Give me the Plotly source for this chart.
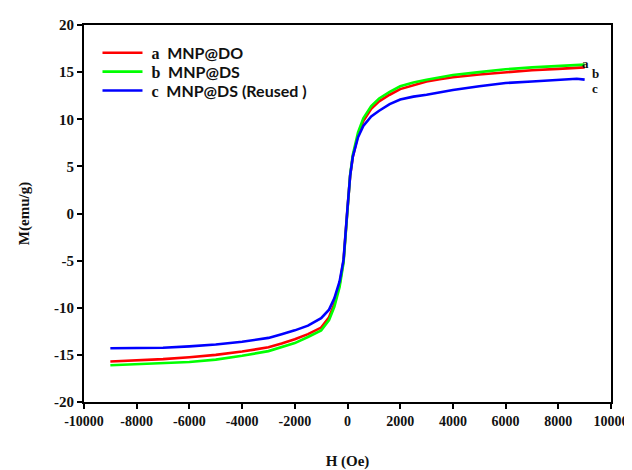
import plotly.graph_objects as go

# Upper/lower branch readings (H in Oe, M in emu/g)
h_a = [-9000, -8000, -7000, -6000, -5000, -4000, -3000, -2500, -2000, -1500, -1000, -700, -500, -300, -150, 0,
       100, 200, 400, 600, 900, 1200, 1600, 2000, 2500, 3000, 3500, 4000, 5000, 6000, 7000, 8000, 9000]
m_a = [-15.7, -15.6, -15.45, -15.25, -15.0, -14.65, -14.2, -13.8, -13.35, -12.8, -12.1, -11.0, -9.6, -7.5, -5.0, 0.5,
       4.0, 6.0, 8.3, 9.8, 11.1, 11.9, 12.6, 13.2, 13.6, 14.0, 14.25, 14.45, 14.75, 15.0, 15.2, 15.35, 15.5]

h_b = [-9000, -8000, -7000, -6000, -5000, -4000, -3000, -2500, -2000, -1500, -1000, -700, -500, -300, -150, 0,
       100, 200, 400, 600, 900, 1200, 1600, 2000, 2500, 3000, 3500, 4000, 5000, 6000, 7000, 8000, 9000]
m_b = [-16.1, -16.0, -15.9, -15.75, -15.5, -15.1, -14.6, -14.2, -13.75, -13.1, -12.4, -11.3, -9.9, -7.8, -5.2, 0.4,
       4.1, 6.2, 8.6, 10.1, 11.4, 12.2, 12.9, 13.5, 13.9, 14.2, 14.45, 14.7, 15.0, 15.3, 15.5, 15.65, 15.8]

h_c = [-9000, -8000, -7000, -6000, -5000, -4000, -3000, -2500, -2000, -1500, -1000, -700, -500, -300, -150, 0,
       100, 200, 400, 600, 900, 1200, 1600, 2000, 2500, 3000, 3500, 4000, 5000, 6000, 7000, 8000, 8700, 9000]
m_c = [-14.3, -14.3, -14.25, -14.1, -13.9, -13.6, -13.2, -12.8, -12.4, -11.9, -11.1, -10.2, -9.0, -7.2, -4.9, 0.6,
       4.0, 6.0, 8.1, 9.3, 10.3, 10.9, 11.6, 12.1, 12.4, 12.6, 12.85, 13.1, 13.5, 13.85, 14.0, 14.15, 14.3, 14.2]

series_names = ["a", "b", "c"]
series_labels = ["MNP@DO", "MNP@DS", "MNP@DS (Reused )"]
series_colors = ["#FF0000", "#00FF00", "#0000FF"]

x_ticks = list(range(-10000, 10001, 2000))
y_ticks = list(range(-20, 21, 5))

serif = "Liberation Serif"
sans = "Lato"

legend_ids = ["legend", "legend2", "legend3"]
legend_y = [0.926, 0.876, 0.826]

fig = go.Figure()
for h, m, n, lab, col, lid in zip([h_a, h_b, h_c], [m_a, m_b, m_c], series_names, series_labels,
                                  series_colors, legend_ids):
    fig.add_trace(go.Scatter(
        x=h, y=m, mode="lines",
        line=dict(color=col, width=2.6),
        name=f"&nbsp;<span style='font-family:{serif}'>{n}</span>&nbsp; {lab}",
        legend=lid,
    ))

# end labels a, b, c
end_pos = [(9050, 15.9), (9400, 14.9), (9400, 13.3)]
for n, (x, y) in zip(series_names, end_pos):
    fig.add_annotation(x=x, y=y, text=f"<b>{n}</b>", showarrow=False,
                       font=dict(family=serif, size=13, color="#111"), xanchor="center", yanchor="middle")

axis_common = dict(showgrid=False, zeroline=False, showline=True, linecolor="#000", linewidth=2,
                   mirror=True, ticks="outside", ticklen=5, tickwidth=1.5, tickcolor="#000",
                   automargin=False)

fig.update_xaxes(range=[-10000, 10000], tickvals=x_ticks, ticktext=[str(v) for v in x_ticks],
                 tickfont=dict(family=serif, size=14, color="#111", weight="bold"),
                 title=dict(text="<b>H (Oe)</b>", font=dict(family=serif, size=15, color="#111"), standoff=30),
                 **axis_common)
fig.update_yaxes(range=[-20, 20], tickvals=y_ticks, ticktext=[str(v) for v in y_ticks],
                 tickfont=dict(family=serif, size=15, color="#111", weight="bold"),
                 title=dict(text="<b>M(emu/g)</b>", font=dict(family=serif, size=15, color="#111"), standoff=21),
                 **axis_common)

leg_common = dict(x=0.0256, xanchor="left", yanchor="middle", bgcolor="rgba(0,0,0,0)",
                  font=dict(family=sans, size=16, color="#111", weight="bold"), itemwidth=40)

fig.update_layout(
    width=624, height=462,
    margin=dict(l=76, r=21, t=17, b=68),
    plot_bgcolor="white", paper_bgcolor="white",
    showlegend=True,
    legend=dict(y=legend_y[0], **leg_common),
    legend2=dict(y=legend_y[1], **leg_common),
    legend3=dict(y=legend_y[2], **leg_common),
)

fig.write_html("out.html")
